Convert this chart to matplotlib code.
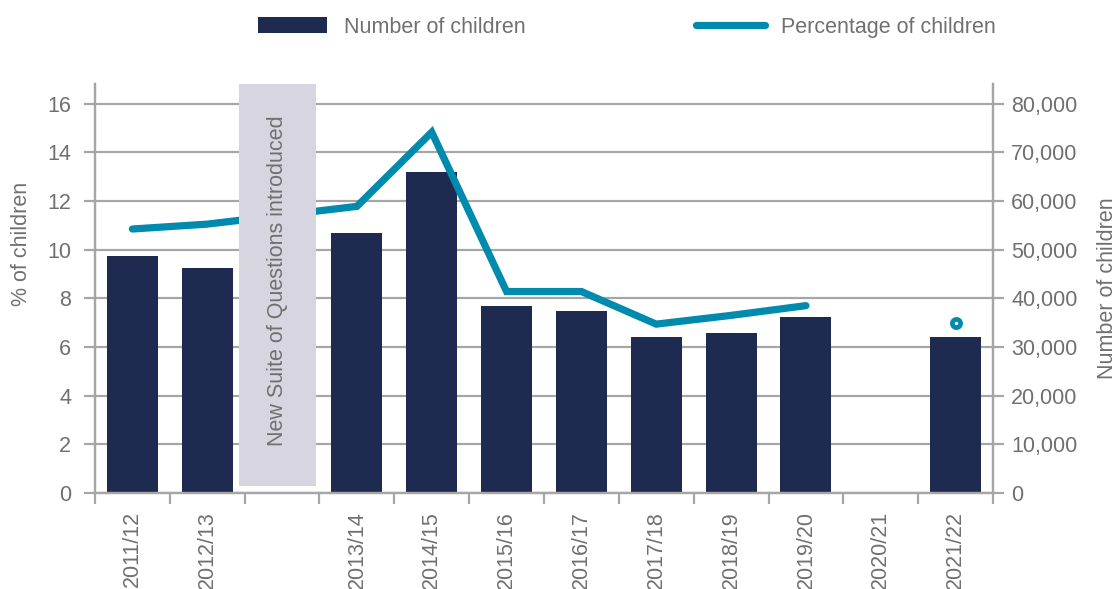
import numpy as np
import matplotlib
matplotlib.use("Agg")
import matplotlib.pyplot as plt
from matplotlib.patches import Rectangle, Patch
from matplotlib.lines import Line2D

plt.rcParams['font.family'] = ['Liberation Sans', 'DejaVu Sans']

# Slot labels along the x axis (one empty slot marks the change of questions)
slots = ["2011/12", "2012/13", "", "2013/14", "2014/15", "2015/16", "2016/17",
         "2017/18", "2018/19", "2019/20", "2020/21", "2021/22"]

# Number of children (right axis)
bar_years = ["2011/12", "2012/13", "2013/14", "2014/15", "2015/16", "2016/17",
             "2017/18", "2018/19", "2019/20", "2021/22"]
bar_counts = [48800, 46300, 53500, 66000, 38500, 37450, 32100, 32900, 36200, 32100]

# Percentage of children (left axis)
line_years = ["2011/12", "2012/13", "2013/14", "2014/15", "2015/16", "2016/17",
              "2017/18", "2018/19", "2019/20"]
line_pct = [10.85, 11.05, 11.78, 14.83, 8.28, 8.28, 6.94, 7.3, 7.7]
latest_year = "2021/22"
latest_pct = 7.0

note_text = "New Suite of Questions introduced"

NAVY = "#1e2a4f"
TEAL = "#008aad"
GREY = "#a6a6a6"
TXT = "#707070"
BOX = "#d6d5e0"
FS = 15.5

pos = {s: i for i, s in enumerate(slots) if s}

fig = plt.figure(figsize=(11.16, 5.89), dpi=100)
ax2 = fig.add_axes([0.0851, 0.163, 0.8047, 0.694])
ax = ax2.twinx()
ax.yaxis.tick_left()
ax.yaxis.set_label_position("left")
ax2.yaxis.tick_right()
ax2.yaxis.set_label_position("right")
ax.set_zorder(ax2.get_zorder() + 1)
ax.patch.set_visible(False)

# bars on the count axis
ax2.bar([pos[y] for y in bar_years], bar_counts, width=0.68, color=NAVY, zorder=2)
ax2.set_ylim(0, 84000)
ax2.set_yticks(np.arange(0, 80001, 10000))
ax2.set_yticklabels([f"{v:,}" for v in range(0, 80001, 10000)])
ax2.grid(axis='y', color=GREY, linewidth=1.6, zorder=0)
ax2.set_axisbelow(True)

# percentage line
ax.plot([pos[y] for y in line_years], line_pct, color=TEAL, linewidth=5.2,
        solid_capstyle='round', solid_joinstyle='miter', zorder=3)
ax.plot([pos[latest_year]], [latest_pct], marker='o', markersize=5.9,
        markeredgewidth=3.4, markeredgecolor=TEAL, markerfacecolor='white',
        linestyle='none', zorder=3)
ax.set_ylim(0, 16.8)
ax.set_yticks(np.arange(0, 17, 2))

# annotation box over the empty slot
box_x0, box_x1 = 1.42, 2.46
box_y0 = 0.3
ax.add_patch(Rectangle((box_x0, box_y0), box_x1 - box_x0, 16.8 - box_y0,
                       facecolor=BOX, edgecolor='none', zorder=5, clip_on=False))
ax.text((box_x0 + box_x1) / 2, 0.52, note_text, transform=ax.get_xaxis_transform(),
        rotation=90, ha='center', va='center', color=TXT, fontsize=FS, zorder=6)

# x axis
ax2.set_xlim(-0.5, len(slots) - 0.5)
ax2.set_xticks(range(len(slots)))
ax2.set_xticklabels(slots, rotation=90, color=TXT, fontsize=FS)
ax2.tick_params(axis='x', which='major', length=0, pad=13)
ax2.set_xticks(np.arange(-0.5, len(slots), 1), minor=True)
ax2.tick_params(axis='x', which='minor', length=8, width=1.6, color=GREY)

for a in (ax, ax2):
    a.spines['top'].set_visible(False)
    for side in ('left', 'right', 'bottom'):
        a.spines[side].set_color(GREY)
        a.spines[side].set_linewidth(1.6)

ax.tick_params(axis='y', length=8, width=1.6, color=GREY, labelcolor=TXT,
               labelsize=FS, pad=9)
ax2.tick_params(axis='y', length=8, width=1.6, color=GREY, labelcolor=TXT,
                labelsize=FS, pad=5)

ax.set_ylabel("% of children", color=TXT, fontsize=FS)
ax.yaxis.set_label_coords(-0.070, 0.61)
ax2.set_ylabel("Number of children", color=TXT, fontsize=FS)
ax2.yaxis.set_label_coords(1.116, 0.5)

handles = [Patch(facecolor=NAVY, edgecolor='none'),
           Line2D([0], [0], color=TEAL, linewidth=5.2, solid_capstyle='round')]
leg = fig.legend(handles, ["Number of children", "Percentage of children"],
                 loc='center', bbox_to_anchor=(0.562, 0.954), ncol=2, frameon=False,
                 fontsize=FS, handlelength=3.2, handleheight=0.75,
                 handletextpad=0.78, columnspacing=7.9)
for t in leg.get_texts():
    t.set_color(TXT)

fig.savefig("out.png", dpi=100)
